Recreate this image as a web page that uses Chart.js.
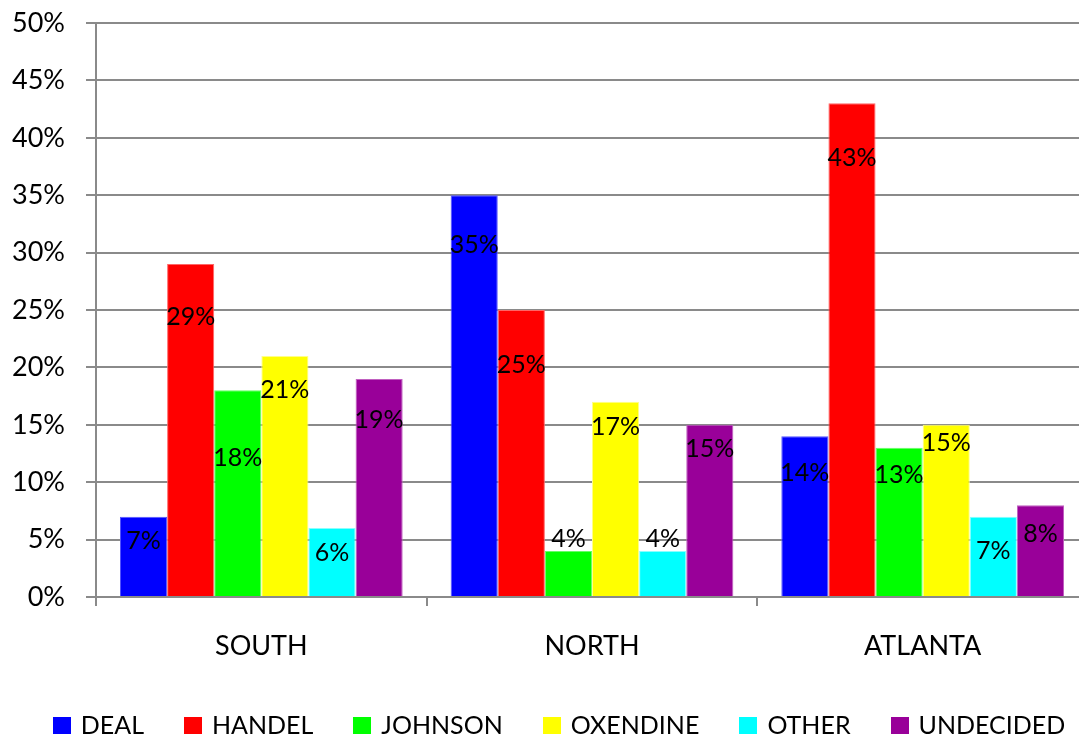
<!DOCTYPE html>
<html>
<head>
<meta charset="utf-8">
<script src="https://cdn.jsdelivr.net/npm/chart.js@4.4.1/dist/chart.umd.min.js"></script>
<style>
  html, body { margin: 0; padding: 0; background: #fff; overflow: hidden; }
  #wrap { width: 1088px; height: 740px; }
</style>
</head>
<body>
<div id="wrap"><canvas id="chart" width="1088" height="740"></canvas></div>
<script>
const regions = ['SOUTH', 'NORTH', 'ATLANTA'];
const candidates = ['DEAL', 'HANDEL', 'JOHNSON', 'OXENDINE', 'OTHER', 'UNDECIDED'];

const deal      = [7, 35, 14];
const handel    = [29, 25, 43];
const johnson   = [18, 4, 13];
const oxendine  = [21, 17, 15];
const other     = [6, 4, 7];
const undecided = [19, 15, 8];

const yTicks = [0, 5, 10, 15, 20, 25, 30, 35, 40, 45, 50];

const series = [deal, handel, johnson, oxendine, other, undecided];
const fills   = ['#0000ff', '#ff0000', '#00ff00', '#ffff00', '#00ffff', '#990099'];
const borders = ['#5555ff', '#ff6666', '#66ff66', '#ffff88', '#88ffff', '#c060c0'];

// how far below the bar top each value label sits (px), as in the original
const labelDrop = [
  [24, 50, 37],
  [53, 55, 55],
  [68, -12, 27],
  [34, 25, 18],
  [25, -12, 34],
  [41, 24, 29]
];

const FONT = 'Lato';
const gridColor = '#8a8a8a';

const barLabels = {
  id: 'barLabels',
  afterDatasetsDraw(chart) {
    const ctx = chart.ctx;
    ctx.save();
    ctx.font = '25px ' + FONT;
    ctx.fillStyle = '#000';
    ctx.textAlign = 'center';
    ctx.textBaseline = 'middle';
    chart.data.datasets.forEach((ds, i) => {
      chart.getDatasetMeta(i).data.forEach((bar, j) => {
        ctx.fillText(ds.data[j] + '%', bar.x, bar.y + labelDrop[i][j]);
      });
    });
    ctx.restore();
  }
};

const bottomLegend = {
  id: 'bottomLegend',
  afterDraw(chart) {
    const ctx = chart.ctx;
    ctx.save();
    ctx.font = '25px ' + FONT;
    const gap = 40;
    const widths = chart.data.datasets.map(ds => 18 + 10 + ctx.measureText(ds.label).width);
    const total = widths.reduce((a, b) => a + b, 0) + gap * (widths.length - 1);
    let x = 559 - total / 2;
    const y = 725;
    chart.data.datasets.forEach((ds, i) => {
      ctx.fillStyle = ds.backgroundColor;
      ctx.fillRect(Math.round(x), y - 8, 18, 17);
      ctx.fillStyle = '#000';
      ctx.textAlign = 'left';
      ctx.textBaseline = 'middle';
      ctx.fillText(ds.label, x + 28, y + 1);
      x += widths[i] + gap;
    });
    ctx.restore();
  }
};

function draw() {
  new Chart(document.getElementById('chart'), {
    type: 'bar',
    data: {
      labels: regions,
      datasets: candidates.map((name, i) => ({
        label: name,
        data: series[i],
        backgroundColor: fills[i],
        borderColor: borders[i],
        borderWidth: 1,
        categoryPercentage: 0.855,
        barPercentage: 1
      }))
    },
    options: {
      responsive: false,
      animation: false,
      layout: { padding: { top: 23, bottom: 63, left: 0, right: 0 } },
      plugins: {
        legend: { display: false },
        tooltip: { enabled: false }
      },
      scales: {
        x: {
          afterFit: (s) => { s.height = 80; s.paddingLeft = 0; s.paddingRight = 0; },
          grid: {
            offset: true,
            drawOnChartArea: false,
            drawTicks: true,
            tickLength: 9,
            color: gridColor,
            lineWidth: 2
          },
          border: { display: true, color: gridColor, width: 2 },
          ticks: {
            padding: 24,
            color: '#000',
            font: { family: FONT, size: 27 }
          }
        },
        y: {
          min: 0,
          max: 50,
          afterFit: (s) => { s.width = 96; s.paddingTop = 0; s.paddingBottom = 0; },
          afterBuildTicks: (s) => { s.ticks = yTicks.map(v => ({ value: v })); },
          grid: {
            color: gridColor,
            lineWidth: 2,
            tickLength: 10
          },
          border: { display: true, color: gridColor, width: 2 },
          ticks: {
            padding: 21,
            color: '#000',
            font: { family: FONT, size: 27 },
            callback: (v) => v + '%'
          }
        }
      }
    },
    plugins: [barLabels, bottomLegend]
  });
}

if (document.fonts && document.fonts.load) {
  document.fonts.load('25px ' + FONT).then(draw, draw);
} else {
  draw();
}
</script>
</body>
</html>
